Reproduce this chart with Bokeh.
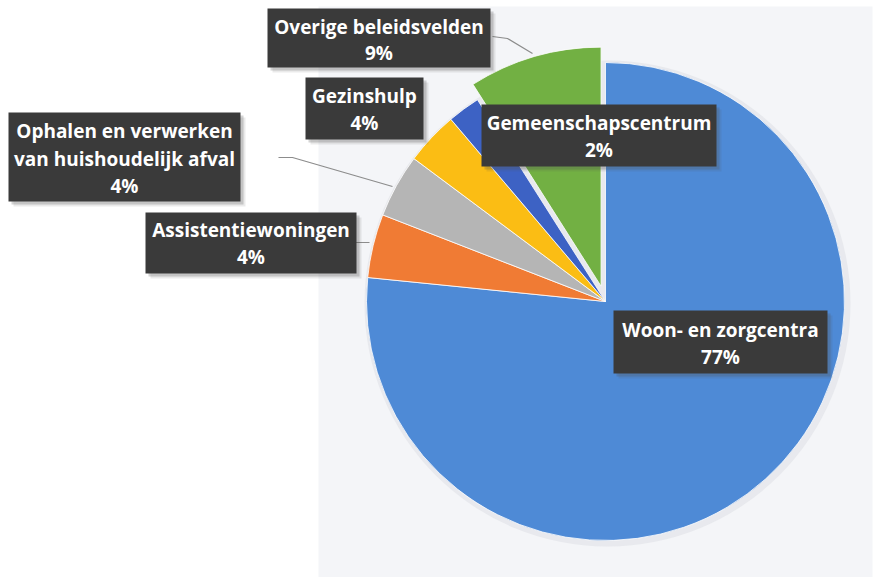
import math
from bokeh.plotting import figure
from bokeh.models import Range1d, ColumnDataSource
from bokeh.core.properties import value
from bokeh.embed import file_html
from bokeh.resources import INLINE

# ---- data ----
categories = ["Woon- en zorgcentra", "Assistentiewoningen",
              "Ophalen en verwerken van huishoudelijk afval",
              "Gezinshulp", "Gemeenschapscentrum", "Overige beleidsvelden"]
shares = [76.6, 4.3, 4.3, 3.6, 2.2, 9.0]
label_lines = [["Woon- en zorgcentra"], ["Assistentiewoningen"],
               ["Ophalen en verwerken", "van huishoudelijk afval"],
               ["Gezinshulp"], ["Gemeenschapscentrum"], ["Overige beleidsvelden"]]

# ---- styling / layout ----
colors = ["#4e8ad6", "#f07b34", "#b5b5b5", "#fbbd14", "#3d62c4", "#72b043"]
W, H = 876, 577


def X(sx):
    return sx


def Y(sy):
    return H - sy


p = figure(width=W, height=H, output_backend="svg", toolbar_location=None,
           x_range=Range1d(0, W), y_range=Range1d(0, H),
           x_axis_location=None, y_axis_location=None, min_border=0)
p.grid.visible = False
p.outline_line_color = None
p.background_fill_color = "white"
p.border_fill_color = "white"

# light scanned background behind the pie
p.quad(left=[X(318)], right=[X(872)], bottom=[Y(577)], top=[Y(6)],
       fill_color="#f4f5f8", line_color=None)

cx, cy, r = X(605), Y(301), 239
explode = {5: 16}

total = sum(shares)
cum = 0.0
# soft halo around pie
p.circle(x=[cx + 2], y=[cy - 2], radius=r + 4, fill_color="#dcdee3", fill_alpha=0.5, line_color=None)
for i, s in enumerate(shares):
    f0 = cum / total
    cum += s
    f1 = cum / total
    start = math.pi / 2 - 2 * math.pi * f1
    end = math.pi / 2 - 2 * math.pi * f0
    mid = (start + end) / 2
    d = explode.get(i, 0)
    x0 = cx + d * math.cos(mid)
    y0 = cy + d * math.sin(mid)
    src = ColumnDataSource(dict(x=[x0], y=[y0], sa=[start], ea=[end]))
    p.wedge(x="x", y="y", radius=r, start_angle="sa", end_angle="ea",
            direction="anticlock", source=src, fill_color=colors[i],
            line_color="white", line_width=1, line_alpha=0.8)

# leader lines (screen coords)
leaders = [
    [(492, 36), (507, 38), (532, 53)],
    [(278, 157), (292, 157), (392, 186)],
    [(355, 242), (369, 242)],
]
for pts in leaders:
    p.line(x=[X(a) for a, b in pts], y=[Y(b) for a, b in pts], line_color="#8c8c8c", line_width=1.2)

# label boxes: (left, top, right, bottom) and text line centres
boxes = {
    0: ((613, 310, 827, 373), [329, 356]),
    1: ((145, 212, 356, 273), [229, 256]),
    2: ((8, 112, 240, 201), [130, 158, 185]),
    3: ((305, 77, 423, 139), [95, 122]),
    4: ((481, 104, 716, 166), [122, 149]),
    5: ((267, 8, 490, 67), [26, 52]),
}
order = [5, 3, 2, 1, 4, 0]
for i in order:
    (l, t, rr, b), ys = boxes[i]
    for off, a in [(5, 0.12), (3, 0.25)]:
        p.quad(left=[X(l + off)], right=[X(rr + off)], top=[Y(t + off)], bottom=[Y(b + off)],
               fill_color="#555555", fill_alpha=a, line_color=None)
    p.quad(left=[X(l)], right=[X(rr)], top=[Y(t)], bottom=[Y(b)],
           fill_color="#3a3a3a", line_color=None)
    lines = label_lines[i] + ["%d%%" % round(shares[i] / total * 100)]
    xs = [X((l + rr) / 2)] * len(lines)
    p.text(x=xs, y=[Y(v) for v in ys], text=lines, text_color="white",
           text_font=value("Open Sans"), text_font_style="bold", text_font_size="19px",
           text_align="center", text_baseline="middle")

open("out.html", "w").write(file_html(p, INLINE))
